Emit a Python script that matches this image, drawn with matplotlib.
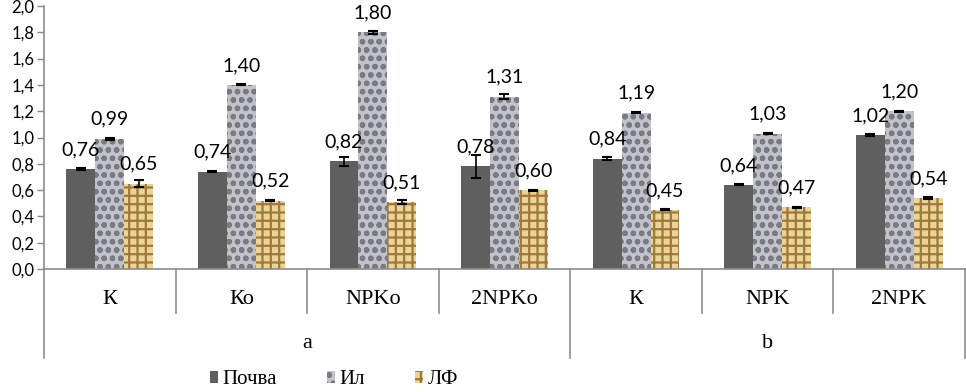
import matplotlib
matplotlib.use("Agg")
import matplotlib.pyplot as plt
from matplotlib.transforms import blended_transform_factory
from matplotlib.patches import Patch
import numpy as np

categories = ["К", "Ко", "NPKо", "2NPKо", "К", "NPK", "2NPK"]
groups = ["a", "b"]
group_sizes = [4, 3]
series_names = ["Почва", "Ил", "ЛФ"]
pochva = [0.76, 0.74, 0.82, 0.78, 0.84, 0.64, 1.02]
il = [0.99, 1.40, 1.80, 1.31, 1.19, 1.03, 1.20]
lf = [0.65, 0.52, 0.51, 0.60, 0.45, 0.47, 0.54]
pochva_err = [0.006, 0.004, 0.035, 0.09, 0.01, 0.004, 0.005]
il_err = [0.008, 0.004, 0.012, 0.02, 0.004, 0.005, 0.004]
lf_err = [0.025, 0.004, 0.015, 0.004, 0.004, 0.004, 0.004]
yticks = [0.0, 0.2, 0.4, 0.6, 0.8, 1.0, 1.2, 1.4, 1.6, 1.8, 2.0]

plt.rcParams["hatch.linewidth"] = 1.6

W, H = 966, 392
fig = plt.figure(figsize=(W / 100, H / 100), dpi=100)
ax = fig.add_axes([44 / W, 1 - 269 / H, (965 - 44) / W, (269 - 6) / H])

x = np.arange(len(categories))
bw = 0.22
styles = [
    dict(color="#5f5f5f", edgecolor="#5f5f5f", hatch=None),
    dict(color="#c2c3c8", edgecolor="#7a7a84", hatch="oo"),
    dict(color="#ead497", edgecolor="#a07a3a", hatch="++"),
]
vals = [pochva, il, lf]
errs = [pochva_err, il_err, lf_err]
num_font = "Lato"
for k in range(3):
    pos = x + (k - 1) * bw
    st = styles[k]
    ax.bar(pos, vals[k], width=bw, color=st["color"], edgecolor=st["edgecolor"],
           hatch=st["hatch"], linewidth=0, zorder=2)
    ax.errorbar(pos, vals[k], yerr=errs[k], fmt="none", ecolor="black",
                elinewidth=1.2, capsize=3.5, capthick=1.5, zorder=3)
    for p, v in zip(pos, vals[k]):
        ax.annotate(f"{v:.2f}".replace(".", ","), (p, v), xytext=(0, 14),
                    textcoords="offset points", ha="center", va="center",
                    fontsize=14, family=num_font, color="black", zorder=4)

ax.set_xlim(-0.5, len(categories) - 0.5)
ax.set_ylim(0, 2.0)
ax.set_yticks(yticks)
ax.set_yticklabels([f"{t:.1f}".replace(".", ",") for t in yticks],
                   fontsize=12, family=num_font)
ax.tick_params(axis="y", length=5, width=1, color="#888888", pad=2)
ax.set_xticks([])
for s in ["top", "right"]:
    ax.spines[s].set_visible(False)
for s in ["left", "bottom"]:
    ax.spines[s].set_color("#8c8c8c")
    ax.spines[s].set_linewidth(1.2)

trans = blended_transform_factory(ax.transData, ax.transAxes)
short = -(313 - 269) / 263
long_ = -(358 - 269) / 263
boundaries = np.cumsum([0] + group_sizes)
for i in range(len(categories) + 1):
    y1 = long_ if i in boundaries else short
    ax.plot([i - 0.5, i - 0.5], [0, y1], transform=trans, color="#8c8c8c",
            lw=1.2, clip_on=False)
for i, c in enumerate(categories):
    ax.text(i, -(300 - 269) / 263, c, transform=trans, ha="center", va="center",
            fontsize=16, family="Liberation Serif")
for g, (b0, b1) in enumerate(zip(boundaries[:-1], boundaries[1:])):
    ax.text((b0 + b1 - 1) / 2, -(343 - 269) / 263, groups[g], transform=trans,
            ha="center", va="center", fontsize=16, family="Liberation Serif")

handles = [Patch(facecolor=styles[k]["color"], edgecolor=styles[k]["edgecolor"],
                 hatch=styles[k]["hatch"], linewidth=0) for k in range(3)]
fig.legend(handles, series_names, loc="center", bbox_to_anchor=(334 / W, 1 - 380 / H),
           ncol=3, frameon=False, prop={"family": "Liberation Serif", "size": 15},
           handlelength=0.4, handleheight=0.55, handletextpad=0.2, columnspacing=2.4,
           borderpad=0)

fig.savefig("out.png", dpi=100)
